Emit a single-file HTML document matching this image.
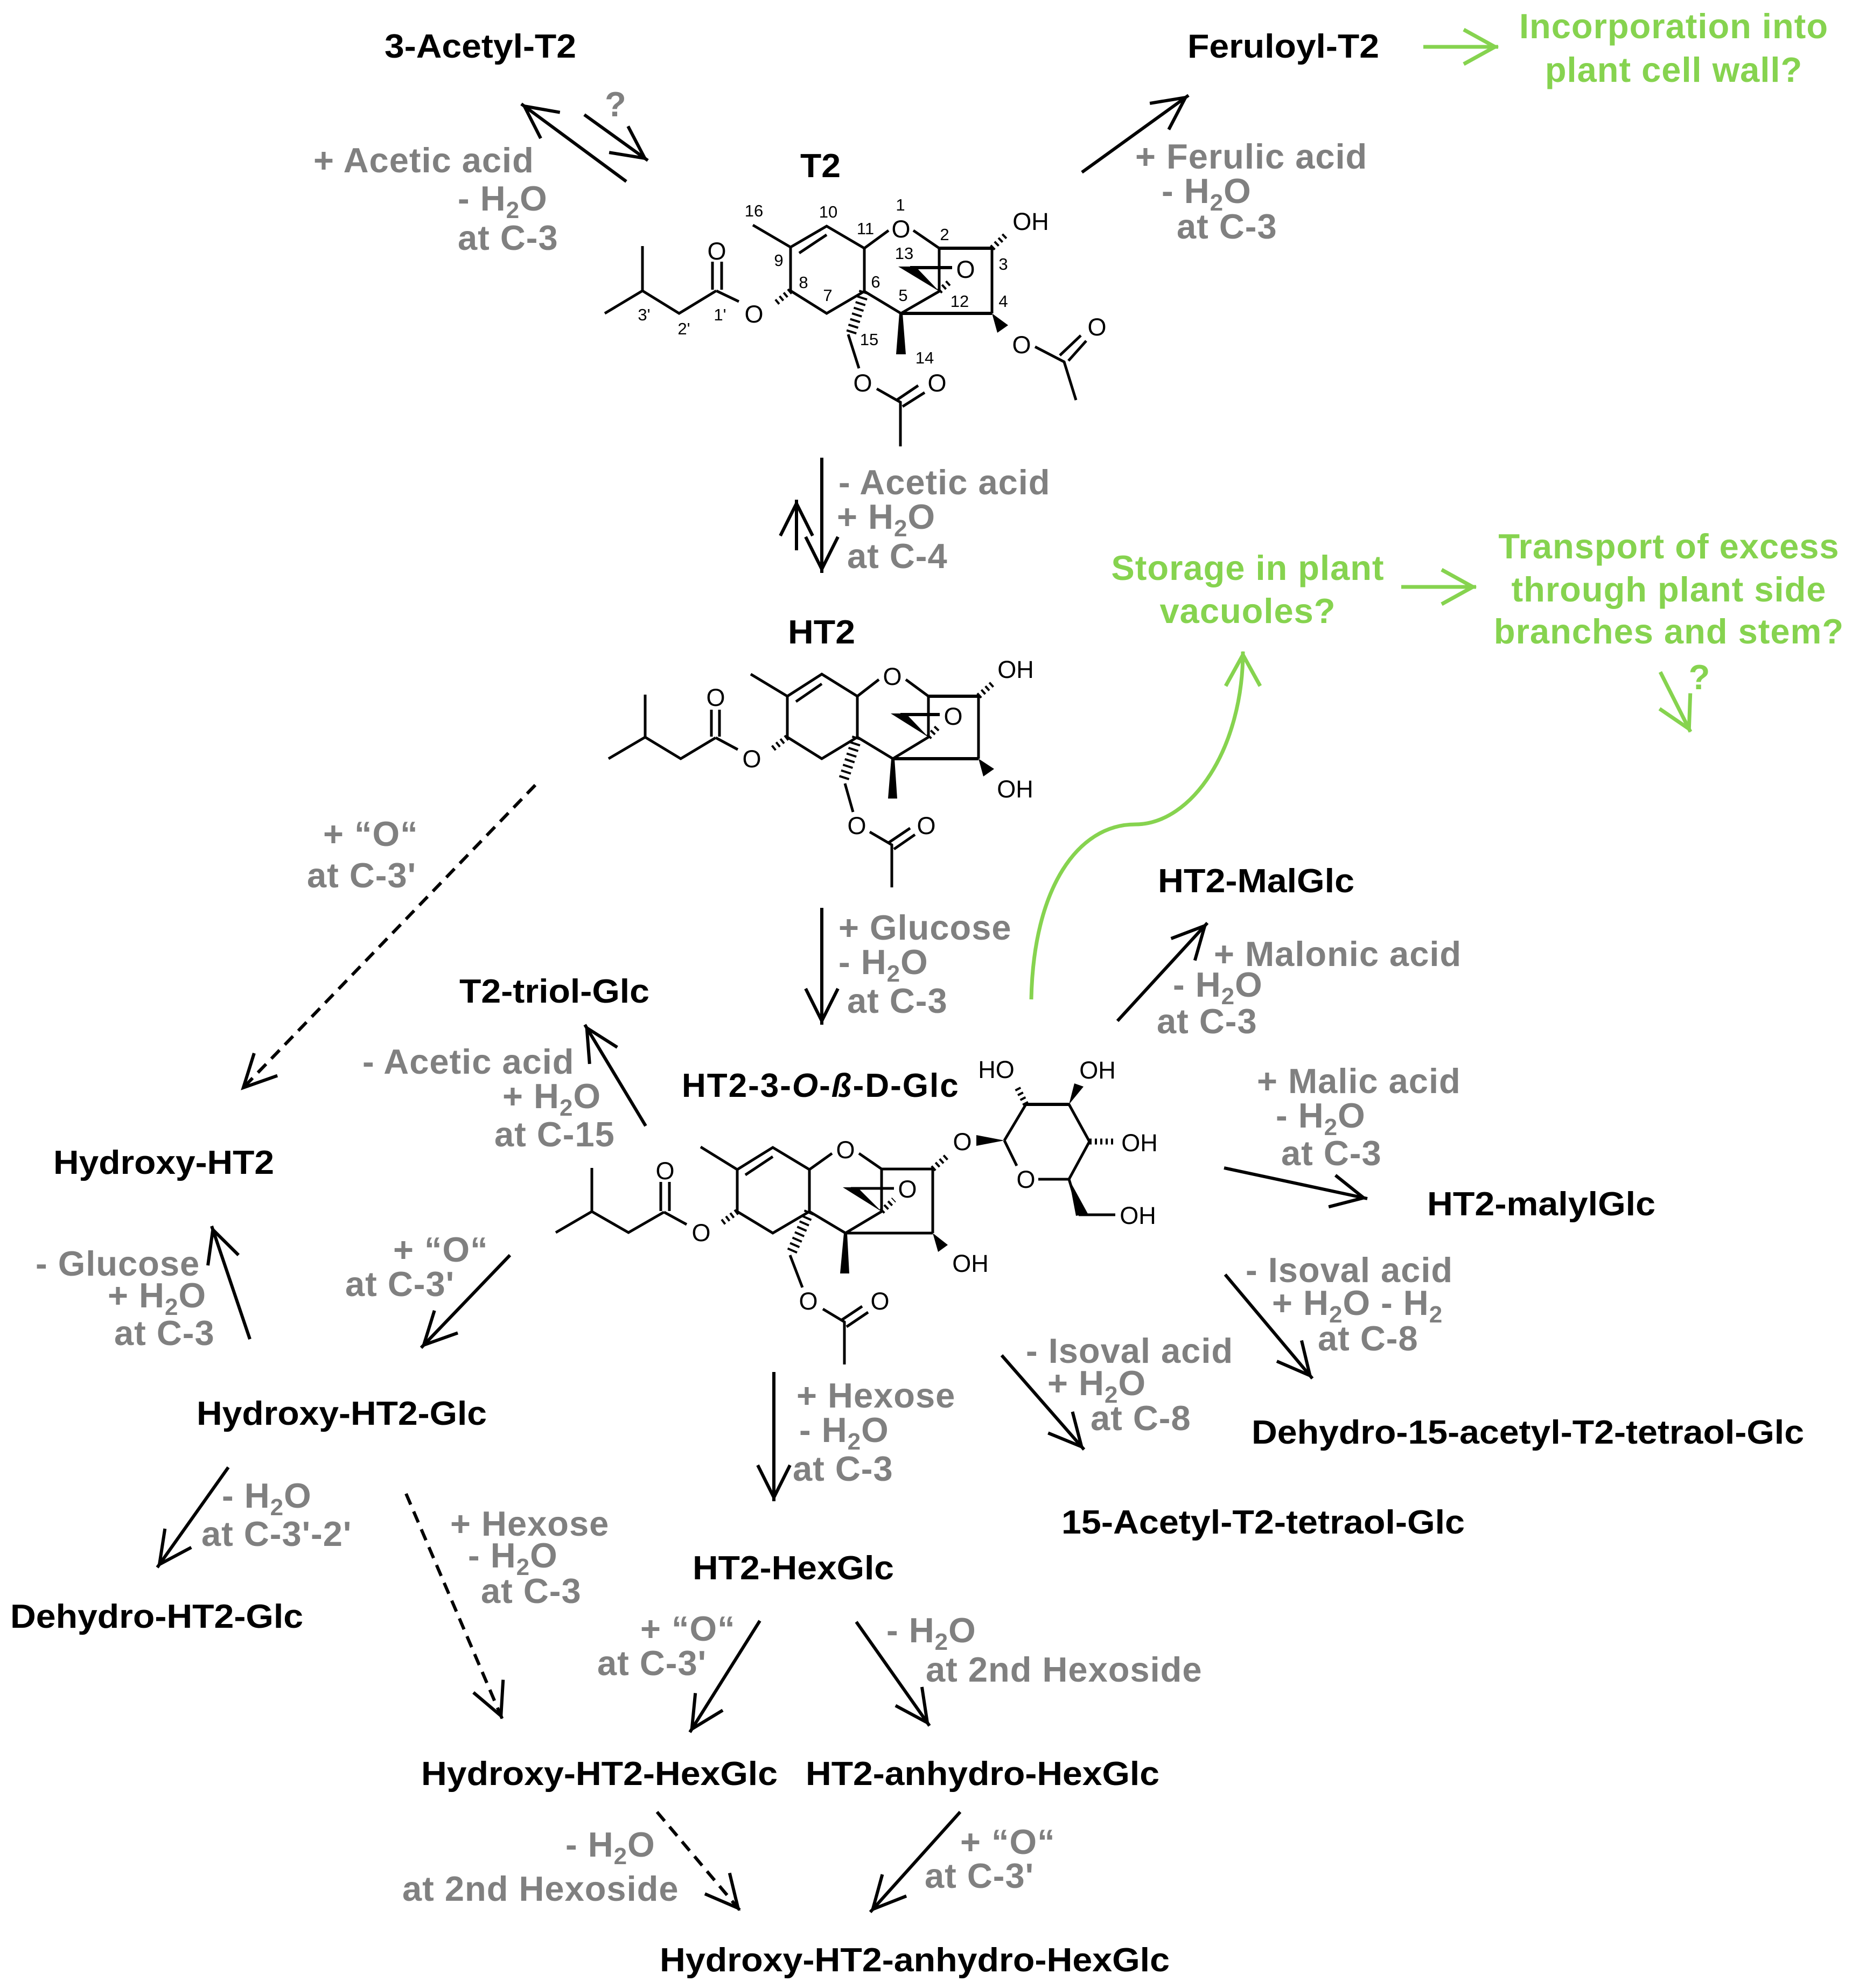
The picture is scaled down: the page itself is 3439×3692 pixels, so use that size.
<!DOCTYPE html>
<html><head><meta charset="utf-8"><title>T2 metabolism</title>
<style>
html,body{margin:0;padding:0;background:#fff}
svg{display:block}
text{font-family:"Liberation Sans",Arial,sans-serif}
.k{font-weight:bold;font-size:62px;fill:#000}
.g{font-weight:bold;font-size:65px;fill:#808080;letter-spacing:1px}
.w{transform:translateY(-2px)}
.n{font-weight:bold;font-size:65px;fill:#86d34f;text-anchor:middle;letter-spacing:1px}
.a{font-size:45px;fill:#000;text-anchor:middle}
.s{font-size:31px;fill:#000;text-anchor:middle}
.b{fill:none;stroke:#000;stroke-width:5}
.t{fill:none;stroke:#000;stroke-width:6}
.h{fill:none;stroke:#000;stroke-width:11;stroke-dasharray:4 6}
.h2{fill:none;stroke:#000;stroke-width:19;stroke-dasharray:4 7}
.ar{fill:none;stroke:#000;stroke-width:6;marker-end:url(#m)}
.d{fill:none;stroke:#000;stroke-width:6;stroke-dasharray:22 14;marker-end:url(#m)}
.gr{fill:none;stroke:#86d34f;stroke-width:7;marker-end:url(#mg)}
</style></head><body>
<svg xmlns="http://www.w3.org/2000/svg" width="3439" height="3692" viewBox="0 0 3439 3692">
<defs>
<marker id="m" markerUnits="userSpaceOnUse" markerWidth="100" markerHeight="90" refX="87" refY="45" orient="auto" overflow="visible"><path d="M20,15 L80,45 L20,75" fill="none" stroke="#000" stroke-width="6"/></marker>
<marker id="mg" markerUnits="userSpaceOnUse" markerWidth="100" markerHeight="90" refX="86" refY="45" orient="auto" overflow="visible"><path d="M22,13 L80,45 L22,77" fill="none" stroke="#86d34f" stroke-width="7"/></marker>
</defs>

<!-- T2 molecule -->
<g>
<path class="b" d="M1123,582L1193,540L1261,582L1330,540M1193,540V457M1323,486V538M1340,486V538M1330,540L1372,560"/>
<path class="b" d="M1468,540V459L1398,418M1468,459L1535,420L1605,461L1605,541L1535,582L1468,540M1484,470L1535,436"/>
<path class="b" d="M1605,461L1650,428M1696,428L1744,461V541L1673,582L1605,541M1842,461V582"/>
<path class="t" d="M1744,461H1842M1673,582H1842M1690,497H1768"/>
<polygon points="1744,541 1668,495 1700,495"/>
<polygon points="1670,582 1676,582 1682,658 1664,658"/>
<polygon points="1842,582 1852,618 1872,604"/>
<path class="h" d="M1468,540L1438,565M1842,461L1870,434M1744,541L1765,522"/>
<path class="h2" d="M1605,541L1580,620"/>
<path class="b" d="M1575,621L1595,684M1628,722L1672,747V829M1665,743L1705,716M1676,755L1717,729"/>
<path class="b" d="M1922,644L1976,672L1998,743M1968,660L2007,623M1984,670L2017,633"/>
<text class="a" x="1331" y="482">O</text><text class="a" x="1400" y="599">O</text>
<text class="a" x="1673" y="441">O</text><text class="a" x="1793" y="516">O</text>
<text class="a" x="1914" y="427">OH</text><text class="a" x="1897" y="656">O</text>
<text class="a" x="2037" y="623">O</text><text class="a" x="1602" y="727">O</text><text class="a" x="1740" y="727">O</text>
<text class="s" x="1400" y="402">16</text><text class="s" x="1538" y="404">10</text><text class="s" x="1672" y="391">1</text>
<text class="s" x="1607" y="435">11</text><text class="s" x="1754" y="446">2</text><text class="s" x="1679" y="481">13</text>
<text class="s" x="1863" y="501">3</text><text class="s" x="1446" y="494">9</text><text class="s" x="1492" y="535">8</text>
<text class="s" x="1626" y="534">6</text><text class="s" x="1537" y="559">7</text><text class="s" x="1677" y="559">5</text>
<text class="s" x="1782" y="570">12</text><text class="s" x="1863" y="570">4</text><text class="s" x="1196" y="595">3'</text>
<text class="s" x="1270" y="621">2'</text><text class="s" x="1337" y="595">1'</text><text class="s" x="1614" y="641">15</text>
<text class="s" x="1717" y="675">14</text>
</g>

<!-- HT2 molecule -->
<g>
<path class="b" d="M1130,1409L1198,1369L1264,1409L1329,1370M1198,1369V1290M1321,1318V1368M1336,1318V1368M1329,1370L1370,1392"/>
<path class="b" d="M1462,1369V1293L1394,1252M1462,1293L1526,1252L1592,1293V1369L1526,1409L1462,1369M1478,1303L1526,1270"/>
<path class="b" d="M1592,1293L1632,1262M1682,1262L1724,1293V1369L1658,1409L1592,1369M1817,1293V1409"/>
<path class="t" d="M1724,1293H1817M1658,1409H1817M1672,1327H1745"/>
<polygon points="1724,1369 1654,1325 1682,1325"/>
<polygon points="1655,1409 1661,1409 1666,1483 1649,1483"/>
<polygon points="1817,1409 1826,1442 1846,1428"/>
<path class="h" d="M1462,1369L1433,1392M1817,1293L1845,1268M1724,1369L1742,1350"/>
<path class="h2" d="M1592,1369L1565,1452"/>
<path class="b" d="M1569,1455L1584,1508M1615,1545L1656,1569V1648M1650,1565L1690,1538M1660,1577L1699,1550"/>
<text class="a" x="1329" y="1311">O</text><text class="a" x="1396" y="1425">O</text><text class="a" x="1657" y="1272">O</text>
<text class="a" x="1770" y="1346">O</text><text class="a" x="1886" y="1259">OH</text><text class="a" x="1885" y="1481">OH</text>
<text class="a" x="1591" y="1549">O</text><text class="a" x="1720" y="1549">O</text>
</g>

<!-- HT2-Glc molecule -->
<g>
<path class="b" d="M1032,2289L1099,2250L1167,2289L1233,2251M1099,2250V2169M1227,2195V2249M1243,2195V2249M1233,2251L1275,2274"/>
<path class="b" d="M1369,2250V2172L1301,2130M1369,2172L1435,2131L1503,2172V2250L1435,2290L1369,2250M1384,2182L1435,2148"/>
<path class="b" d="M1503,2172L1545,2142M1595,2142L1637,2171V2250L1570,2290L1503,2250M1732,2171V2290"/>
<path class="b" d="M1637,2171H1732M1570,2290H1732M1580,2207H1660"/>
<polygon points="1637,2250 1565,2205 1592,2205"/>
<polygon points="1567,2290 1573,2290 1577,2365 1560,2365"/>
<polygon points="1732,2290 1742,2325 1760,2312"/>
<polygon points="1865,2118 1813,2108 1813,2128"/>
<polygon points="1985,2051 1995,2012 2012,2018"/>
<path d="M1985,2190L2005,2256H2071" fill="none" stroke="#000" stroke-width="5"/>
<polygon points="1985,2190 1998,2258 2020,2254"/>
<path class="b" d="M1865,2118L1905,2051H1985L2023,2120L1985,2190H1928M1865,2118L1888,2165"/>
<path class="t" d="M1905,2051H1985"/>
<path class="h" d="M1369,2250L1338,2273M1732,2171L1761,2145M1637,2250L1660,2228M1905,2051L1888,2018M2023,2120L2071,2120"/>
<path class="h2" d="M1503,2250L1468,2330"/>
<path class="b" d="M1467,2331L1490,2391M1528,2431L1568,2455V2534M1562,2452L1601,2426M1572,2464L1612,2437"/>
<text class="a" x="1235" y="2190">O</text><text class="a" x="1302" y="2305">O</text><text class="a" x="1570" y="2151">O</text>
<text class="a" x="1685" y="2224">O</text><text class="a" x="1787" y="2136">O</text><text class="a" x="1905" y="2206">O</text>
<text class="a" x="1850" y="2002">HO</text><text class="a" x="2038" y="2003">OH</text><text class="a" x="2116" y="2138">OH</text>
<text class="a" x="2113" y="2273">OH</text><text class="a" x="1802" y="2362">OH</text>
<text class="a" x="1501" y="2432">O</text><text class="a" x="1634" y="2432">O</text>
</g>

<!-- Arrows -->
<line class="ar" x1="1163" y1="337" x2="968" y2="193"/>
<line class="ar" x1="1085" y1="213" x2="1203" y2="298"/>
<line class="ar" x1="2009" y1="320" x2="2207" y2="177"/>
<line class="gr" x1="2643" y1="87" x2="2782" y2="87"/>
<line class="ar" x1="1526" y1="850" x2="1526" y2="1064"/>
<line class="ar" x1="1479" y1="1022" x2="1479" y2="928"/>
<line class="d" x1="994" y1="1458" x2="447" y2="2025"/>
<line class="ar" x1="1526" y1="1686" x2="1526" y2="1903"/>
<path class="gr" d="M1915,1856C1919,1648 2002,1531 2108,1531C2214,1531 2308,1389 2308,1210"/>
<line class="gr" x1="2602" y1="1090" x2="2741" y2="1090"/>
<line class="gr" x1="3083" y1="1248" x2="3139" y2="1359"/>
<line class="ar" x1="2075" y1="1896" x2="2242" y2="1714"/>
<line class="ar" x1="1199" y1="2091" x2="1086" y2="1903"/>
<line class="ar" x1="2273" y1="2169" x2="2539" y2="2226"/>
<line class="ar" x1="2275" y1="2367" x2="2437" y2="2560"/>
<line class="ar" x1="1860" y1="2517" x2="2013" y2="2692"/>
<line class="ar" x1="947" y1="2331" x2="782" y2="2503"/>
<line class="ar" x1="464" y1="2487" x2="393" y2="2277"/>
<line class="ar" x1="1437" y1="2548" x2="1437" y2="2788"/>
<line class="ar" x1="424" y1="2725" x2="292" y2="2911"/>
<line class="d" x1="754" y1="2774" x2="933" y2="3193"/>
<line class="ar" x1="1411" y1="3010" x2="1281" y2="3217"/>
<line class="ar" x1="1590" y1="3012" x2="1726" y2="3205"/>
<line class="d" x1="1220" y1="3365" x2="1375" y2="3549"/>
<line class="ar" x1="1783" y1="3365" x2="1616" y2="3551"/>

<!-- Black labels -->
<g transform="translate(-2,-2)">
<text class="k" x="716" y="109" textLength="356" lengthAdjust="spacingAndGlyphs">3-Acetyl-T2</text>
<text class="k" x="2207" y="109" textLength="356" lengthAdjust="spacingAndGlyphs">Feruloyl-T2</text>
<text class="k" x="1488" y="331" textLength="75" lengthAdjust="spacingAndGlyphs">T2</text>
<text class="k" x="1465" y="1197" textLength="125" lengthAdjust="spacingAndGlyphs">HT2</text>
<text class="k" x="2152" y="1659" textLength="365" lengthAdjust="spacingAndGlyphs">HT2-MalGlc</text>
<text class="k" x="855" y="1864" textLength="353" lengthAdjust="spacingAndGlyphs">T2-triol-Glc</text>
<text class="k" x="1268" y="2039" style="letter-spacing:2px">HT2-3-<tspan font-style="italic">O</tspan>-<tspan font-style="italic">ß</tspan>-D-Glc</text>
<text class="k" x="101" y="2182" textLength="410" lengthAdjust="spacingAndGlyphs">Hydroxy-HT2</text>
<text class="k" x="2652" y="2259" textLength="424" lengthAdjust="spacingAndGlyphs">HT2-malylGlc</text>
<text class="k" x="367" y="2648" textLength="539" lengthAdjust="spacingAndGlyphs">Hydroxy-HT2-Glc</text>
<text class="k" x="2326" y="2683" textLength="1026" lengthAdjust="spacingAndGlyphs">Dehydro-15-acetyl-T2-tetraol-Glc</text>
<text class="k" x="1973" y="2850" textLength="749" lengthAdjust="spacingAndGlyphs">15-Acetyl-T2-tetraol-Glc</text>
<text class="k" x="1288" y="2935" textLength="374" lengthAdjust="spacingAndGlyphs">HT2-HexGlc</text>
<text class="k" x="21" y="3025" textLength="544" lengthAdjust="spacingAndGlyphs">Dehydro-HT2-Glc</text>
<text class="k" x="784" y="3317" textLength="662" lengthAdjust="spacingAndGlyphs">Hydroxy-HT2-HexGlc</text>
<text class="k" x="1498" y="3317" textLength="657" lengthAdjust="spacingAndGlyphs">HT2-anhydro-HexGlc</text>
<text class="k" x="1227" y="3663" textLength="947" lengthAdjust="spacingAndGlyphs">Hydroxy-HT2-anhydro-HexGlc</text>
</g>

<!-- Grey labels -->
<g transform="translate(0,-3)">
<text class="g" x="1123" y="219">?</text>
<text class="g" x="582" y="323">+ Acetic acid</text>
<text class="g w" x="850" y="396">- H<tspan dy="14" font-size="44">2</tspan><tspan dy="-14">O</tspan></text>
<text class="g" x="850" y="467">at C-3</text>
<text class="g" x="2108" y="316">+ Ferulic acid</text>
<text class="g w" x="2157" y="382">- H<tspan dy="14" font-size="44">2</tspan><tspan dy="-14">O</tspan></text>
<text class="g" x="2185" y="446">at C-3</text>
<text class="g" x="1557" y="921">- Acetic acid</text>
<text class="g w" x="1554" y="987">+ H<tspan dy="14" font-size="44">2</tspan><tspan dy="-14">O</tspan></text>
<text class="g" x="1573" y="1058">at C-4</text>
<text class="g" x="600" y="1574">+ “O“</text>
<text class="g" x="570" y="1651">at C-3'</text>
<text class="g" x="1557" y="1748">+ Glucose</text>
<text class="g w" x="1557" y="1814">- H<tspan dy="14" font-size="44">2</tspan><tspan dy="-14">O</tspan></text>
<text class="g" x="1573" y="1884">at C-3</text>
<text class="g" x="2254" y="1797">+ Malonic acid</text>
<text class="g w" x="2178" y="1856">- H<tspan dy="14" font-size="44">2</tspan><tspan dy="-14">O</tspan></text>
<text class="g" x="2148" y="1922">at C-3</text>
<text class="g" x="673" y="1997">- Acetic acid</text>
<text class="g w" x="933" y="2063">+ H<tspan dy="14" font-size="44">2</tspan><tspan dy="-14">O</tspan></text>
<text class="g" x="918" y="2132">at C-15</text>
<text class="g" x="2334" y="2033">+ Malic acid</text>
<text class="g w" x="2369" y="2099">- H<tspan dy="14" font-size="44">2</tspan><tspan dy="-14">O</tspan></text>
<text class="g" x="2379" y="2167">at C-3</text>
<text class="g" x="66" y="2372">- Glucose</text>
<text class="g w" x="200" y="2433">+ H<tspan dy="14" font-size="44">2</tspan><tspan dy="-14">O</tspan></text>
<text class="g" x="212" y="2501">at C-3</text>
<text class="g" x="730" y="2346">+ “O“</text>
<text class="g" x="641" y="2410">at C-3'</text>
<text class="g" x="2313" y="2384">- Isoval acid</text>
<text class="g w" x="2362" y="2447">+ H<tspan dy="14" font-size="44">2</tspan><tspan dy="-14">O - H</tspan><tspan dy="14" font-size="44">2</tspan></text>
<text class="g" x="2447" y="2511">at C-8</text>
<text class="g" x="1905" y="2534">- Isoval acid</text>
<text class="g w" x="1945" y="2596">+ H<tspan dy="14" font-size="44">2</tspan><tspan dy="-14">O</tspan></text>
<text class="g" x="2025" y="2659">at C-8</text>
<text class="g" x="1479" y="2617">+ Hexose</text>
<text class="g w" x="1484" y="2683">- H<tspan dy="14" font-size="44">2</tspan><tspan dy="-14">O</tspan></text>
<text class="g" x="1472" y="2753">at C-3</text>
<text class="g w" x="412" y="2805">- H<tspan dy="14" font-size="44">2</tspan><tspan dy="-14">O</tspan></text>
<text class="g" x="374" y="2874">at C-3'-2'</text>
<text class="g" x="836" y="2855">+ Hexose</text>
<text class="g w" x="869" y="2916">- H<tspan dy="14" font-size="44">2</tspan><tspan dy="-14">O</tspan></text>
<text class="g" x="893" y="2980">at C-3</text>
<text class="g" x="1189" y="3050">+ “O“</text>
<text class="g" x="1109" y="3114">at C-3'</text>
<text class="g w" x="1646" y="3055">- H<tspan dy="14" font-size="44">2</tspan><tspan dy="-14">O</tspan></text>
<text class="g" x="1719" y="3126">at 2nd Hexoside</text>
<text class="g w" x="1050" y="3453">- H<tspan dy="14" font-size="44">2</tspan><tspan dy="-14">O</tspan></text>
<text class="g" x="747" y="3533">at 2nd Hexoside</text>
<text class="g" x="1783" y="3446">+ “O“</text>
<text class="g" x="1717" y="3509">at C-3'</text>
</g>

<!-- Green labels -->
<g transform="translate(0,-2)">
<text class="n" x="3108" y="73">Incorporation into</text>
<text class="n" x="3108" y="154">plant cell wall?</text>
<text class="n" x="2317" y="1079">Storage in plant</text>
<text class="n" x="2317" y="1159">vacuoles?</text>
<text class="n" x="3099" y="1039">Transport of excess</text>
<text class="n" x="3099" y="1119">through plant side</text>
<text class="n" x="3099" y="1197">branches and stem?</text>
<text class="n" x="3156" y="1282">?</text>
</g>
</svg>
</body></html>
